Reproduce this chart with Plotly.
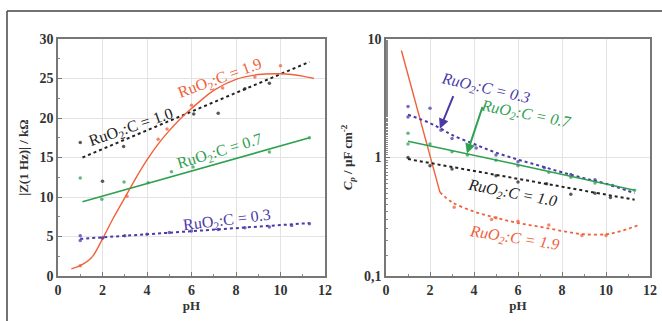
import math
import plotly.graph_objects as go

# ---------------- data: left panel |Z(1 Hz)| / kOhm ----------------
ph_pts_10 = [1.0, 2.0, 2.95, 6.1, 7.2, 8.4, 9.5]
z_pts_10 = [16.9, 12.0, 16.4, 20.5, 20.6, 23.7, 24.4]
ph_fit_10 = [1.1, 11.3]
z_fit_10 = [15.0, 27.1]

ph_pts_19 = [1.0, 2.0, 3.1, 4.5, 4.9, 6.0, 7.4, 8.85, 10.0]
z_pts_19 = [1.3, 4.8, 10.1, 17.3, 18.6, 21.6, 23.8, 25.2, 26.6]
ph_fit_19 = [0.6, 1.0, 1.5, 2.0, 2.5, 3.0, 3.5, 4.0, 4.5, 5.0, 5.6, 6.0, 7.0, 8.0, 9.0, 10.0, 10.5, 11.0, 11.5]
z_fit_19 = [0.9, 1.3, 2.3, 4.7, 7.4, 9.9, 12.4, 14.7, 16.7, 18.4, 20.2, 21.2, 23.5, 24.9, 25.5, 25.6, 25.5, 25.3, 25.0]

ph_pts_07 = [1.0, 1.97, 2.97, 4.05, 5.1, 6.07, 9.5, 11.3]
z_pts_07 = [12.4, 9.7, 11.9, 11.8, 13.2, 13.8, 15.7, 17.5]
ph_fit_07 = [1.1, 11.3]
z_fit_07 = [9.4, 17.5]

ph_pts_03 = [1.0, 1.0, 2.0, 3.0, 4.0, 5.0, 6.0, 7.2, 8.4, 9.5, 10.5, 11.3]
z_pts_03 = [5.1, 4.5, 4.8, 5.1, 5.3, 5.5, 5.7, 5.9, 6.1, 6.2, 6.4, 6.6]
ph_fit_03 = [1.0, 11.3]
z_fit_03 = [4.7, 6.7]

# ---------------- data: right panel Cp / uF cm-2 ----------------
ph_cfit_19a = [0.7, 1.0, 1.5, 2.0, 2.45]
cp_fit_19a = [8.0, 5.0, 2.2, 1.0, 0.51]
ph_cfit_19b = [2.45, 3.0, 4.0, 5.0, 6.0, 7.0, 8.0, 9.0, 10.0, 10.5, 11.0, 11.5]
cp_fit_19b = [0.51, 0.42, 0.35, 0.31, 0.28, 0.26, 0.24, 0.225, 0.225, 0.235, 0.25, 0.27]
ph_cpts_19 = [3.1, 4.8, 5.0, 6.0, 7.4, 8.9, 10.0]
cp_pts_19 = [0.38, 0.30, 0.31, 0.29, 0.27, 0.22, 0.22]

ph_cfit_03 = [1.0, 2.0, 2.5, 3.0, 4.0, 5.0, 6.0, 7.0, 8.0, 9.0, 10.0, 11.3]
cp_fit_03 = [2.3, 1.95, 1.75, 1.55, 1.3, 1.1, 0.96, 0.85, 0.75, 0.67, 0.6, 0.5]
ph_cpts_03 = [1.0, 1.0, 2.0, 2.5, 3.0, 4.1, 5.0, 6.0, 7.2, 8.4, 9.5, 10.3]
cp_pts_03 = [2.7, 2.2, 2.6, 1.7, 1.45, 1.2, 1.05, 0.92, 0.82, 0.72, 0.65, 0.58]

ph_cfit_07 = [1.0, 6.0, 11.3]
cp_fit_07 = [1.37, 0.87, 0.53]
ph_cpts_07 = [1.0, 1.0, 2.0, 3.0, 3.7, 5.0, 6.0, 7.4, 8.4, 9.5, 11.3]
cp_pts_07 = [1.6, 1.3, 1.3, 1.12, 1.05, 0.95, 0.85, 0.75, 0.68, 0.61, 0.53]

ph_cfit_10 = [1.0, 11.3]
cp_fit_10 = [0.97, 0.44]
ph_cpts_10 = [1.0, 2.0, 3.0, 5.0, 6.0, 7.3, 8.4, 9.5, 10.2]
cp_pts_10 = [1.0, 0.85, 0.8, 0.7, 0.62, 0.6, 0.49, 0.5, 0.46]

x_ticks = [0, 2, 4, 6, 8, 10, 12]
z_ticks = [0, 5, 10, 15, 20, 25, 30]
cp_ticks = [0.1, 1, 10]
cp_tick_text = ["0,1", "1", "10"]

RED = "#f0603a"
BLACK = "#222222"
GREEN = "#2fa050"
PURPLE = "#4a3aa8"
SERIF = "Liberation Serif"

fig = go.Figure()


def add_line(xf, yf, color, dash, xa, ya, shape="spline", width=1.6):
    fig.add_trace(go.Scatter(x=xf, y=yf, mode="lines", xaxis=xa, yaxis=ya,
                             line=dict(color=color, width=width, dash=dash, shape=shape),
                             showlegend=False, hoverinfo="skip"))


def add_pts(xp, yp, color, xa, ya):
    fig.add_trace(go.Scatter(x=xp, y=yp, mode="markers", xaxis=xa, yaxis=ya,
                             marker=dict(color=color, size=3.5, opacity=0.75),
                             showlegend=False))


add_line(ph_fit_10, z_fit_10, BLACK, "dot", "x", "y", width=2)
add_pts(ph_pts_10, z_pts_10, BLACK, "x", "y")
add_line(ph_fit_19, z_fit_19, RED, "solid", "x", "y", width=1.4)
add_pts(ph_pts_19, z_pts_19, RED, "x", "y")
add_line(ph_fit_07, z_fit_07, GREEN, "solid", "x", "y", width=1.6)
add_pts(ph_pts_07, z_pts_07, GREEN, "x", "y")
add_line(ph_fit_03, z_fit_03, PURPLE, "dot", "x", "y", width=2)
add_pts(ph_pts_03, z_pts_03, PURPLE, "x", "y")

add_line(ph_cfit_19a, cp_fit_19a, RED, "solid", "x2", "y2", shape="linear", width=1.4)
add_line(ph_cfit_19b, cp_fit_19b, RED, "dot", "x2", "y2", width=1.8)
add_pts(ph_cpts_19, cp_pts_19, RED, "x2", "y2")
add_line(ph_cfit_03, cp_fit_03, PURPLE, "dot", "x2", "y2", width=2)
add_pts(ph_cpts_03, cp_pts_03, PURPLE, "x2", "y2")
add_line(ph_cfit_07, cp_fit_07, GREEN, "solid", "x2", "y2", width=1.6)
add_pts(ph_cpts_07, cp_pts_07, GREEN, "x2", "y2")
add_line(ph_cfit_10, cp_fit_10, BLACK, "dot", "x2", "y2", width=2)
add_pts(ph_cpts_10, cp_pts_10, BLACK, "x2", "y2")

tickfont = dict(family=SERIF, size=14, color="#333333", weight="bold")
titlefont = dict(family=SERIF, size=13, color="#333333", weight="bold")
common_x = dict(range=[0, 12], tickvals=x_ticks, showgrid=True, gridcolor="#e3e3e3",
                showline=True, linecolor="#777777", linewidth=1.5, mirror=True,
                ticks="inside", ticklen=4, tickcolor="#777777", tickfont=tickfont,
                minor=dict(dtick=1, ticks="inside", ticklen=2, tickcolor="#888888"),
                zeroline=False, automargin=False,
                title=dict(text="pH", font=titlefont, standoff=0))

fig.update_layout(
    width=662, height=321,
    margin=dict(l=0, r=0, t=0, b=0),
    paper_bgcolor="white", plot_bgcolor="white",
    xaxis=dict(domain=[58 / 662, 325 / 662], anchor="y", **common_x),
    yaxis=dict(domain=[45 / 321, 282 / 321], anchor="x", range=[0, 30], tickvals=z_ticks,
               showgrid=True, gridcolor="#e3e3e3", showline=True, linecolor="#777777",
               linewidth=1.5, mirror=True, ticks="inside", ticklen=4, tickcolor="#777777",
               tickfont=tickfont, zeroline=False, automargin=False,
               minor=dict(dtick=2.5, ticks="inside", ticklen=2, tickcolor="#888888"),
               title=dict(text="|Z(1 Hz)| / kΩ", font=titlefont, standoff=8)),
    xaxis2=dict(domain=[386 / 662, 650 / 662], anchor="y2", **common_x),
    yaxis2=dict(domain=[45 / 321, 282 / 321], anchor="x2", type="log", range=[-1, 1],
                tickvals=cp_ticks, ticktext=cp_tick_text, showgrid=True, gridcolor="#e3e3e3",
                showline=True, linecolor="#777777", linewidth=1.5, mirror=True,
                ticks="inside", ticklen=4, tickcolor="#777777", tickfont=tickfont,
                zeroline=False, automargin=False,
                minor=dict(ticks="inside", ticklen=2, tickcolor="#888888", showgrid=False),
                title=dict(text="<i>C<sub>p</sub></i> / µF cm<sup>-2</sup>", font=titlefont, standoff=8)),
)

lab_font = dict(family=SERIF, size=16)
labels = [
    ("x", "y", 7.3, 25.0, "RuO<sub>2</sub>:C = 1.9", RED, -20),
    ("x", "y", 3.3, 18.8, "RuO<sub>2</sub>:C = 1.0", BLACK, -19),
    ("x", "y", 7.3, 15.7, "RuO<sub>2</sub>:C = 0.7", GREEN, -17),
    ("x", "y", 7.6, 7.0, "RuO<sub>2</sub>:C = 0.3", PURPLE, -7),
    ("x2", "y2", 4.5, 3.8, "<i>RuO<sub>2</sub>:C = 0.3</i>", PURPLE, 13),
    ("x2", "y2", 6.36, 2.3, "<i>RuO<sub>2</sub>:C = 0.7</i>", GREEN, 11),
    ("x2", "y2", 5.73, 0.50, "<i>RuO<sub>2</sub>:C = 1.0</i>", BLACK, 11),
    ("x2", "y2", 5.86, 0.209, "<i>RuO<sub>2</sub>:C = 1.9</i>", RED, 9),
]
for xr, yr, xv, yv, txt, col, ang in labels:
    yy = math.log10(yv) if yr == "y2" else yv
    fig.add_annotation(x=xv, y=yy, xref=xr, yref=yr, text=txt, showarrow=False,
                       textangle=ang, font=dict(color=col, **lab_font))

fig.add_annotation(x=2.45, y=math.log10(1.75), xref="x2", yref="y2", text="",
                   showarrow=True, arrowhead=2, arrowsize=1, arrowwidth=2,
                   arrowcolor=PURPLE, ax=14, ay=-34)
fig.add_annotation(x=3.68, y=math.log10(1.08), xref="x2", yref="y2", text="",
                   showarrow=True, arrowhead=2, arrowsize=1, arrowwidth=2,
                   arrowcolor=GREEN, ax=16, ay=-48)

# outer frame (left and top edges)
fig.add_shape(type="line", xref="paper", yref="paper", x0=7 / 662, x1=7 / 662,
              y0=0, y1=1 - 11 / 321, line=dict(color="#444444", width=1.5))
fig.add_shape(type="line", xref="paper", yref="paper", x0=7 / 662, x1=1,
              y0=1 - 11 / 321, y1=1 - 11 / 321, line=dict(color="#444444", width=1.5))

fig.write_html("out.html", config={"displayModeBar": False},
               post_script="document.body.style.margin='0';document.body.style.overflow='hidden';")
